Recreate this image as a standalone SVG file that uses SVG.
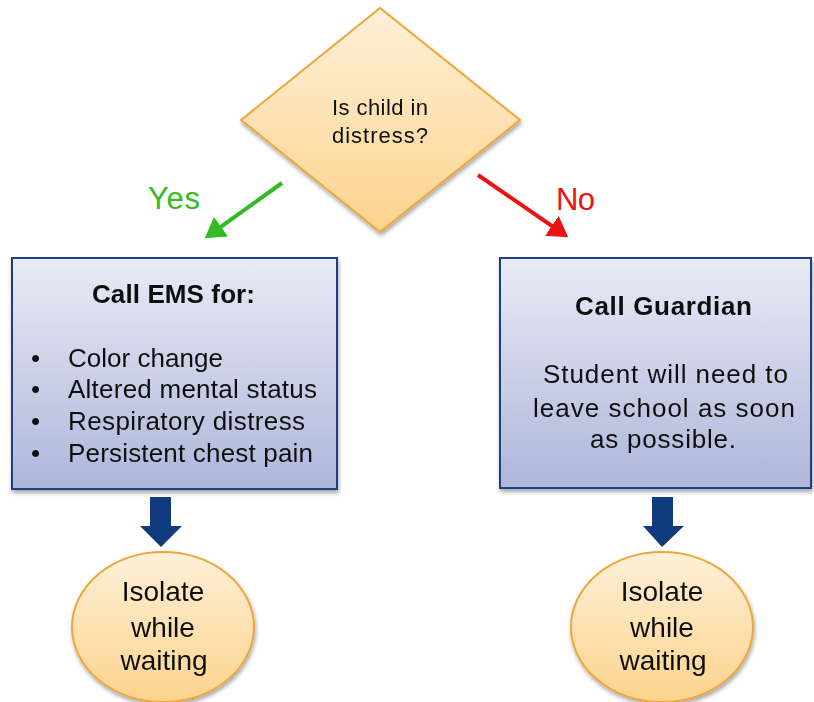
<svg xmlns="http://www.w3.org/2000/svg" width="814" height="702" viewBox="0 0 814 702">
<defs>
<linearGradient id="gOrange" x1="0" y1="0" x2="0" y2="1">
<stop offset="0" stop-color="#fef0d8"/>
<stop offset="1" stop-color="#fcd38c"/>
</linearGradient>
<linearGradient id="gBlue" x1="0" y1="0" x2="0" y2="1">
<stop offset="0" stop-color="#e9ebf6"/>
<stop offset="1" stop-color="#aeb6da"/>
</linearGradient>
<filter id="sh" x="-10%" y="-10%" width="125%" height="125%">
<feGaussianBlur in="SourceAlpha" stdDeviation="2"/>
<feOffset dx="1" dy="3"/>
<feComponentTransfer><feFuncA type="linear" slope="0.35"/></feComponentTransfer>
<feMerge><feMergeNode/><feMergeNode in="SourceGraphic"/></feMerge>
</filter>
<marker id="mGreen" markerWidth="6" markerHeight="6" refX="4" refY="3" orient="auto" markerUnits="strokeWidth">
<path d="M0,0 L5,3 L0,6 Z" fill="#33bb22"/>
</marker>
<marker id="mRed" markerWidth="6" markerHeight="6" refX="4" refY="3" orient="auto" markerUnits="strokeWidth">
<path d="M0,0 L5,3 L0,6 Z" fill="#ee1111"/>
</marker>
</defs>
<style>
text{font-family:"Liberation Sans",Arial,sans-serif;fill:#111;}
.orange{fill:url(#gOrange);stroke:#eea63a;stroke-width:2;}
.box{fill:url(#gBlue);stroke:#1f3f80;stroke-width:2;}
.c{text-anchor:middle;}
.blue{fill:#0f3a7e;}
</style>
<g id="connectors">
<line x1="282" y1="183" x2="208" y2="236" stroke="#33bb22" stroke-width="4" marker-end="url(#mGreen)"/>
<line x1="478" y1="175" x2="565" y2="235" stroke="#ee1111" stroke-width="4" marker-end="url(#mRed)"/>
<text x="148" y="209" font-size="31" textLength="52" style="fill:#33bb22">Yes</text>
<text x="556" y="210" font-size="31" textLength="39" style="fill:#ee1111">No</text>
<path class="blue" d="M150,497 L171,497 L171,526 L182,526 L161,547 L140,526 L150,526 Z"/>
<path class="blue" d="M652,497 L673,497 L673,526 L684,526 L662,547 L643,526 L652,526 Z"/>
</g>
<g id="decision" filter="url(#sh)">
<polygon class="orange" points="380,8 520,120 380,232 241,120"/>
<text x="332" y="115" font-size="22" textLength="96">Is child in</text>
<text x="332" y="143" font-size="22" textLength="96">distress?</text>
</g>
<g id="ems" filter="url(#sh)">
<rect class="box" x="12" y="258" width="325" height="231"/>
<text x="92" y="303" font-size="26" font-weight="bold" textLength="163">Call EMS for:</text>
<g font-size="26">
<text x="31" y="367">•</text><text x="68" y="367" textLength="155">Color change</text>
<text x="31" y="398">•</text><text x="68" y="398" textLength="249">Altered mental status</text>
<text x="31" y="430">•</text><text x="68" y="430" textLength="237">Respiratory distress</text>
<text x="31" y="462">•</text><text x="68" y="462" textLength="245">Persistent chest pain</text>
</g>
</g>
<g id="guardian" filter="url(#sh)">
<rect class="box" x="500" y="258" width="311" height="230"/>
<text x="575" y="315" font-size="26" font-weight="bold" textLength="177">Call Guardian</text>
<text x="543" y="383" font-size="26" textLength="245">Student will need to</text>
<text x="533" y="417" font-size="26" textLength="262">leave school as soon</text>
<text x="590" y="448" font-size="26" textLength="146">as possible.</text>
</g>
<g id="isolate1" filter="url(#sh)">
<ellipse class="orange" cx="163" cy="627" rx="91" ry="75"/>
<text x="163" y="601" class="c" font-size="28">Isolate</text>
<text x="163" y="637" class="c" font-size="28">while</text>
<text x="164" y="670" class="c" font-size="28">waiting</text>
</g>
<g id="isolate2" filter="url(#sh)">
<ellipse class="orange" cx="662" cy="627" rx="91" ry="75"/>
<text x="662" y="601" class="c" font-size="28">Isolate</text>
<text x="662" y="637" class="c" font-size="28">while</text>
<text x="663" y="670" class="c" font-size="28">waiting</text>
</g>
</svg>
